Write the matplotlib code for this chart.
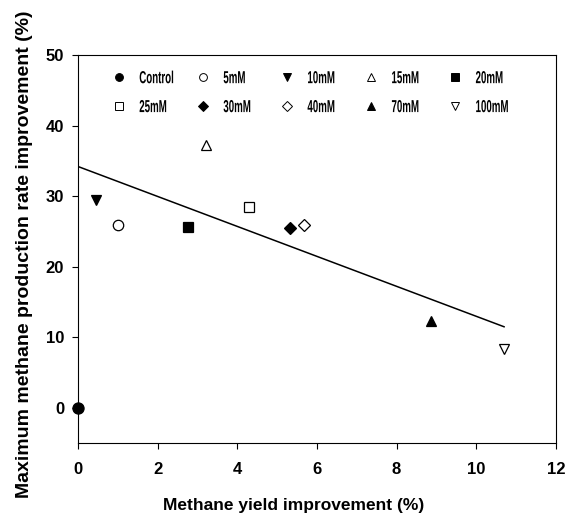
import matplotlib
matplotlib.use("Agg")
import matplotlib.pyplot as plt
from matplotlib import patheffects
from matplotlib.transforms import Affine2D

# treatment groups and their measured improvements
labels = ["Control", "5mM", "10mM", "15mM", "20mM",
          "25mM", "30mM", "40mM", "70mM", "100mM"]
yield_impr = [0.0, 1.0, 0.44, 3.22, 2.75, 4.3, 5.32, 5.68, 8.87, 10.7]
rate_impr = [0.0, 25.9, 29.4, 37.2, 25.7, 28.4, 25.5, 25.9, 12.3, 8.4]
markers = ["o", "o", "v", "^", "s", "s", "D", "D", "^", "v"]
filled = [True, False, True, False, True, False, True, False, True, False]

# linear trend line end points
fit_x = [0.0, 10.7]
fit_y = [34.2, 11.5]

MS = {"o": 7.5, "v": 7.8, "^": 7.8, "s": 7.0, "D": 6.3}


class Squeeze(patheffects.AbstractPathEffect):
    """Draw text narrowed horizontally around its anchor."""

    def __init__(self, sx):
        super().__init__()
        self.sx = sx

    def draw_path(self, renderer, gc, tpath, affine, rgbFace=None):
        renderer.draw_path(gc, tpath, Affine2D().scale(self.sx, 1) + affine,
                           rgbFace)


fig = plt.figure(figsize=(5.66, 5.19), dpi=100)
ax = fig.add_axes([0.138, 0.146, 0.844, 0.748])

for x, y, m, f, lab in zip(yield_impr, rate_impr, markers, filled, labels):
    ms = 8 if lab == "Control" else MS[m]
    ax.plot([x], [y], linestyle="none", marker=m, markersize=ms,
            markerfacecolor="black" if f else "white",
            markeredgecolor="black", markeredgewidth=0.9,
            clip_on=False, zorder=3)

ax.plot(fit_x, fit_y, color="black", linewidth=1.1, zorder=2)

ax.set_xlim(0, 12)
ax.set_ylim(-5, 50)
ax.set_xticks(range(0, 13, 2))
ax.set_yticks(range(0, 51, 10))
for sp in ax.spines.values():
    sp.set_linewidth(0.8)
ax.tick_params(direction="out", length=4, width=0.8)
ax.tick_params(axis="x", pad=9.5)
ax.tick_params(axis="y", pad=6)
for t in ax.get_xticklabels() + ax.get_yticklabels():
    t.set_fontfamily("Liberation Sans")
    t.set_fontweight("bold")
    t.set_fontsize(12)

ax.set_xlabel("Methane yield improvement (%)", fontfamily="Liberation Sans",
              fontweight="bold", fontsize=12.5, labelpad=15)
ax.xaxis.label.set_x(0.452)
ax.set_ylabel("Maximum methane production rate improvement (%)",
              fontfamily="Liberation Sans", fontweight="bold", fontsize=14,
              labelpad=9)
ax.yaxis.label.set_y(0.486)

# two-row key inside the top of the plot area
squeeze = [Squeeze(0.56)]
for i, (m, f, lab) in enumerate(zip(markers, filled, labels)):
    row, col = divmod(i, 5)
    kx = 0.086 + 0.176 * col
    ky = 0.943 - 0.0745 * row
    ax.plot([kx], [ky], transform=ax.transAxes, linestyle="none", marker=m,
            markersize=MS[m] * 0.75, markerfacecolor="black" if f else "white",
            markeredgecolor="black", markeredgewidth=0.7, clip_on=False)
    ax.text(kx + 0.042, ky - 0.0155, lab, transform=ax.transAxes,
            ha="left", va="baseline", fontfamily="Liberation Sans",
            fontweight="bold", fontsize=12.5, path_effects=squeeze)

fig.savefig("out.png", dpi=100)
